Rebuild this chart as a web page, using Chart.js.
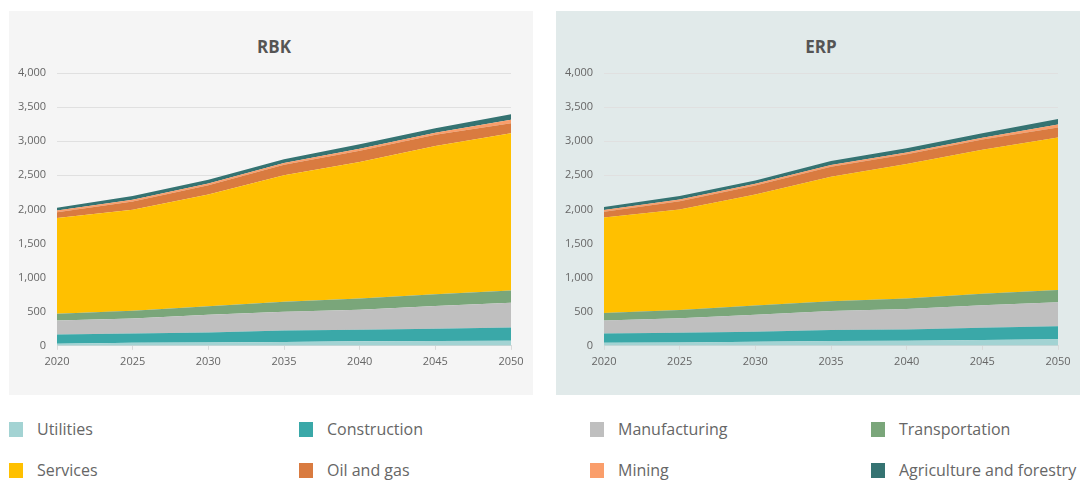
<!DOCTYPE html>
<html>
<head>
<meta charset="utf-8">
<script src="https://cdn.jsdelivr.net/npm/chart.js@4"></script>
<style>
  body {
    margin: 0;
    width: 1087px;
    height: 481px;
    background: #fff;
    position: relative;
    overflow: hidden;
    font-family: "Open Sans", sans-serif;
  }
  .panel { position: absolute; top: 11px; width: 524px; height: 384px; }
  .panel canvas { position: absolute; left: 0; top: 0; }
  #rbkPanel { left: 9px; background: #f5f5f5; }
  #erpPanel { left: 556px; background: #e1eaea; }
  .panel-title {
    position: absolute; left: 0; top: 26px; width: 530px;
    text-align: center; font-size: 17px; line-height: 20px;
    font-weight: bold; color: #555;
  }
  .legend-item { position: absolute; height: 15px; }
  .legend-item .swatch { position: absolute; left: 0; top: 0; width: 14px; height: 15px; }
  .legend-item .label {
    position: absolute; left: 28px; top: -4px;
    font-size: 16px; line-height: 22px; color: #666; white-space: nowrap;
  }
</style>
</head>
<body>
<div class="panel" id="rbkPanel">
  <div class="panel-title">RBK</div>
  <canvas id="rbkChart" width="524" height="384"></canvas>
</div>
<div class="panel" id="erpPanel">
  <div class="panel-title">ERP</div>
  <canvas id="erpChart" width="524" height="384"></canvas>
</div>
<div id="legend"></div>

<script>
const years = ["2020", "2025", "2030", "2035", "2040", "2045", "2050"];

const sectors = [
  "Utilities", "Construction", "Manufacturing", "Transportation",
  "Services", "Oil and gas", "Mining", "Agriculture and forestry"
];

// RBK scenario
const rbkUtilities      = [30, 45, 50, 55, 65, 70, 75];
const rbkConstruction   = [135, 135, 145, 170, 170, 180, 195];
const rbkManufacturing  = [205, 220, 260, 275, 295, 335, 360];
const rbkTransportation = [100, 115, 125, 145, 165, 170, 180];
const rbkServices       = [1405, 1480, 1640, 1855, 2000, 2175, 2305];
const rbkOilGas         = [85, 120, 135, 155, 165, 165, 150];
const rbkMining         = [25, 25, 25, 25, 30, 30, 50];
const rbkAgriculture    = [40, 55, 55, 55, 65, 65, 80];

// ERP scenario
const erpUtilities      = [45, 50, 60, 70, 75, 85, 95];
const erpConstruction   = [135, 140, 145, 160, 165, 180, 190];
const erpManufacturing  = [190, 215, 250, 280, 300, 330, 355];
const erpTransportation = [110, 120, 135, 145, 155, 170, 180];
const erpServices       = [1400, 1475, 1630, 1825, 1970, 2110, 2235];
const erpOilGas         = [85, 120, 130, 145, 145, 150, 145];
const erpMining         = [25, 25, 25, 25, 25, 25, 45];
const erpAgriculture    = [45, 50, 50, 60, 60, 65, 80];

const colors = [
  "#a3d3d3", "#3aa8a8", "#bfbfbf", "#7aa67a",
  "#ffc000", "#d97b40", "#fa9e6b", "#357372"
];

Chart.defaults.font.family = "'Open Sans', sans-serif";

function makeChart(canvasId, series) {
  return new Chart(document.getElementById(canvasId), {
    type: "line",
    data: {
      labels: years,
      datasets: series.map((values, i) => ({
        label: sectors[i],
        data: values,
        backgroundColor: colors[i],
        borderWidth: 0,
        pointRadius: 0,
        tension: 0,
        fill: i === 0 ? "origin" : "-1"
      }))
    },
    options: {
      responsive: false,
      animation: false,
      layout: { padding: { left: 0, right: 22, top: 62, bottom: 22 } },
      plugins: {
        legend: { display: false },
        tooltip: { enabled: false }
      },
      scales: {
        x: {
          grid: { drawOnChartArea: false, color: "#d9d9d9", tickLength: 4 },
          border: { color: "#d9d9d9" },
          ticks: { color: "#666", font: { size: 11 }, padding: 5, maxRotation: 0 }
        },
        y: {
          stacked: true,
          min: 0,
          max: 4000,
          ticks: { stepSize: 500, color: "#666", font: { size: 11 }, padding: 11 },
          grid: { color: "#e0e0e0", drawTicks: false },
          border: { display: false },
          afterFit(scale) { scale.width = 48; }
        }
      }
    }
  });
}

makeChart("rbkChart", [
  rbkUtilities, rbkConstruction, rbkManufacturing, rbkTransportation,
  rbkServices, rbkOilGas, rbkMining, rbkAgriculture
]);

makeChart("erpChart", [
  erpUtilities, erpConstruction, erpManufacturing, erpTransportation,
  erpServices, erpOilGas, erpMining, erpAgriculture
]);

// legend: two rows of four
const legend = document.getElementById("legend");
const colX = [9, 299, 590, 871];
const rowY = [422, 463];
sectors.forEach((name, i) => {
  const item = document.createElement("div");
  item.className = "legend-item";
  item.style.left = colX[i % 4] + "px";
  item.style.top = rowY[Math.floor(i / 4)] + "px";
  item.innerHTML = '<span class="swatch"></span><span class="label"></span>';
  item.querySelector(".swatch").style.background = colors[i];
  item.querySelector(".label").textContent = name;
  legend.appendChild(item);
});
</script>
</body>
</html>
